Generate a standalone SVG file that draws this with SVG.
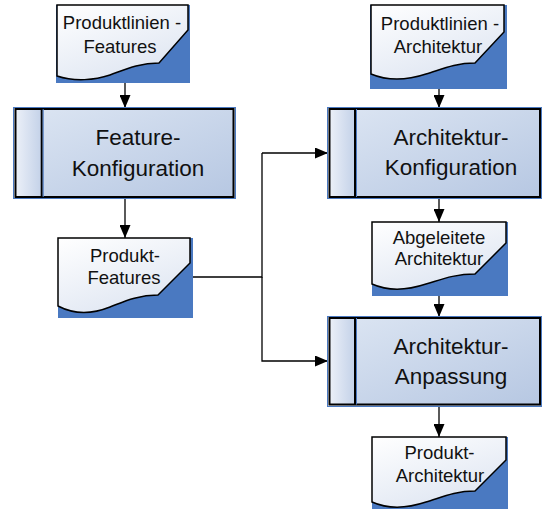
<svg xmlns="http://www.w3.org/2000/svg" width="542" height="509" viewBox="0 0 542 509">
  <style>
    .lbl { font-family: "Liberation Sans", Arial, sans-serif; fill: #111; text-anchor: middle; }
    .doc-lbl { font-size: 18.5px; }
    .proc-lbl { font-size: 22.5px; }
    .doc-back { fill: #4a79c1; }
    .doc-face { fill: url(#docFill); stroke: #000; stroke-width: 1.5; stroke-linejoin: miter; }
    .proc-rim { stroke: #4a79c1; stroke-width: 1; }
    .proc-edge { fill: none; stroke: #000; stroke-width: 2; }
    .link { fill: none; stroke: #000; stroke-width: 1.3; }
  </style>
  <defs>
    <linearGradient id="docFill" x1="0" y1="0" x2="0.6" y2="1">
      <stop offset="0" stop-color="#ffffff"/>
      <stop offset="1" stop-color="#dfe6f2"/>
    </linearGradient>
    <linearGradient id="procBody" x1="0" y1="0" x2="1" y2="1">
      <stop offset="0" stop-color="#dde6f3"/>
      <stop offset="1" stop-color="#b6c7e2"/>
    </linearGradient>
    <linearGradient id="procStrip" x1="0" y1="0" x2="1" y2="0">
      <stop offset="0" stop-color="#eef2f9"/>
      <stop offset="1" stop-color="#c3d1e8"/>
    </linearGradient>
    <marker id="arrow" viewBox="0 0 13 11" markerWidth="13" markerHeight="11" refX="13" refY="5.5" orient="auto" markerUnits="userSpaceOnUse">
      <path d="M0,0 L13,5.5 L0,11 Z" fill="#000"/>
    </marker>
  </defs>

  <!-- connectors -->
  <g id="connectors">
    <line class="link" x1="125" y1="74" x2="125" y2="108" marker-end="url(#arrow)"/>
    <line class="link" x1="125" y1="197" x2="125" y2="238" marker-end="url(#arrow)"/>
    <polyline class="link" points="190,277 262,277 262,153"/>
    <polyline class="link" points="262,153 328,153" marker-end="url(#arrow)"/>
    <polyline class="link" points="262,277 262,361 328,361" marker-end="url(#arrow)"/>
    <line class="link" x1="439" y1="72" x2="439" y2="108" marker-end="url(#arrow)"/>
    <line class="link" x1="439" y1="197" x2="439" y2="222" marker-end="url(#arrow)"/>
    <line class="link" x1="439" y1="284" x2="439" y2="317" marker-end="url(#arrow)"/>
    <line class="link" x1="439" y1="405" x2="439" y2="437" marker-end="url(#arrow)"/>
  </g>

  <!-- document: Produktlinien-Features -->
  <g id="doc-pl-features">
    <rect class="doc-back" x="56" y="5" width="134" height="78"/>
    <path class="doc-face" d="M57,5 H188 V30 L159,63 C138,63 124,70 110,75 C95,80 75,82 57,76 Z"/>
    <text class="lbl doc-lbl" x="122" y="29">Produktlinien -</text>
    <text class="lbl doc-lbl" x="120" y="53">Features</text>
  </g>

  <!-- process: Feature-Konfiguration -->
  <g id="proc-feature-konfig">
    <rect class="proc-rim" x="13.5" y="107.5" width="222" height="91" fill="url(#procBody)"/>
    <rect x="14" y="108" width="28" height="90" fill="url(#procStrip)"/>
    <rect class="proc-edge" x="15.5" y="109" width="218" height="88"/>
    <line x1="41.7" y1="109" x2="41.7" y2="197" stroke="#000" stroke-width="2"/>
    <line x1="43.2" y1="109" x2="43.2" y2="197" stroke="#4a79c1" stroke-width="1"/>
    <text class="lbl proc-lbl" x="138" y="144.5">Feature-</text>
    <text class="lbl proc-lbl" x="138" y="175.5">Konfiguration</text>
  </g>

  <!-- document: Produkt-Features -->
  <g id="doc-produkt-features">
    <rect class="doc-back" x="58" y="238" width="135" height="80"/>
    <path class="doc-face" d="M58,238 H190 V263 L158,295 C137,295 123,302 110,307 C95,313 77,316 58,306 Z"/>
    <text class="lbl doc-lbl" x="125" y="262">Produkt-</text>
    <text class="lbl doc-lbl" x="124" y="283.5">Features</text>
  </g>

  <!-- document: Produktlinien-Architektur -->
  <g id="doc-pl-architektur">
    <rect class="doc-back" x="370" y="5" width="137" height="84"/>
    <path class="doc-face" d="M371,5 H504 V32 L475,63 C454,63 440,70 426,74 C411,79 390,82 371,74 Z"/>
    <text class="lbl doc-lbl" x="440" y="30">Produktlinien -</text>
    <text class="lbl doc-lbl" x="438" y="53">Architektur</text>
  </g>

  <!-- process: Architektur-Konfiguration -->
  <g id="proc-arch-konfig">
    <rect class="proc-rim" x="327.5" y="107.5" width="214" height="91" fill="url(#procBody)"/>
    <rect x="328" y="108" width="27" height="90" fill="url(#procStrip)"/>
    <rect class="proc-edge" x="329.5" y="109" width="210.5" height="88"/>
    <line x1="355" y1="109" x2="355" y2="197" stroke="#000" stroke-width="2"/>
    <line x1="356.5" y1="109" x2="356.5" y2="197" stroke="#4a79c1" stroke-width="1"/>
    <text class="lbl proc-lbl" x="451" y="145">Architektur-</text>
    <text class="lbl proc-lbl" x="451" y="174.5">Konfiguration</text>
  </g>

  <!-- document: Abgeleitete Architektur -->
  <g id="doc-abgeleitet">
    <rect class="doc-back" x="372" y="222" width="136" height="74"/>
    <path class="doc-face" d="M372,222 H506 V243 L475,274 C454,274 440,280 426,284 C411,289 390,292 372,284 Z"/>
    <text class="lbl doc-lbl" x="439" y="244">Abgeleitete</text>
    <text class="lbl doc-lbl" x="439" y="265">Architektur</text>
  </g>

  <!-- process: Architektur-Anpassung -->
  <g id="proc-arch-anpassung">
    <rect class="proc-rim" x="327.5" y="316.5" width="214" height="90" fill="url(#procBody)"/>
    <rect x="328" y="317" width="27" height="89" fill="url(#procStrip)"/>
    <rect class="proc-edge" x="329.5" y="318" width="210.5" height="86.5"/>
    <line x1="355" y1="318" x2="355" y2="404.5" stroke="#000" stroke-width="2"/>
    <line x1="356.5" y1="318" x2="356.5" y2="404.5" stroke="#4a79c1" stroke-width="1"/>
    <text class="lbl proc-lbl" x="451" y="354">Architektur-</text>
    <text class="lbl proc-lbl" x="451" y="383.5">Anpassung</text>
  </g>

  <!-- document: Produkt-Architektur -->
  <g id="doc-produkt-architektur">
    <rect class="doc-back" x="372" y="437" width="136" height="75"/>
    <path class="doc-face" d="M372,437 H506 V460 L475,491 C454,491 440,498 426,502 C411,507 390,510 372,502 Z"/>
    <text class="lbl doc-lbl" x="439.5" y="459">Produkt-</text>
    <text class="lbl doc-lbl" x="440" y="481.5">Architektur</text>
  </g>
</svg>
